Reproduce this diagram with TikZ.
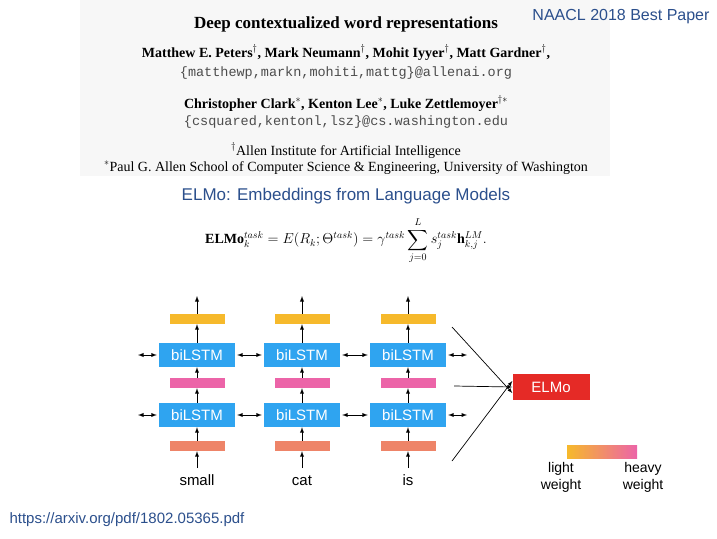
\documentclass[tikz,border=0pt]{standalone}
\usepackage{fontspec}
\usepackage{amsmath}
\setmainfont{Liberation Serif}
\setsansfont{Liberation Sans}
\setmonofont{Liberation Mono}
\definecolor{lstm}{HTML}{2FA4F0}
\definecolor{ora}{HTML}{F6B92B}
\definecolor{pink}{HTML}{EC64A8}
\definecolor{salm}{HTML}{EE8468}
\definecolor{elmo}{HTML}{E52A26}
\definecolor{hblue}{HTML}{2B4F8C}
\begin{document}
\begin{tikzpicture}[x=1pt,y=-1pt,
  lstm/.style={fill=lstm,minimum width=76pt,minimum height=24pt,inner sep=0pt,text=white,font=\sffamily\fontsize{15}{15}\selectfont},
  bar/.style={minimum width=55pt,minimum height=10pt,inner sep=0pt},
  arr/.style={-latex,line width=0.9pt},
  darr/.style={latex-latex,line width=0.9pt},
  word/.style={font=\sffamily\fontsize{15}{15}\selectfont},
  btxt/.style={font=\bfseries\fontsize{14}{14}\selectfont,anchor=base},
  ptxt/.style={font=\fontsize{14}{14}\selectfont,anchor=base},
  mtxt/.style={font=\ttfamily\fontsize{13.5}{14}\selectfont,text=black!70,anchor=base}]
\useasboundingbox (0,0) rectangle (717,538);
\fill[black!3] (80,0) rectangle (610,176);
\node[font=\sffamily\fontsize{16}{16}\selectfont,text=hblue,anchor=base east] (naacl) at (713,20) {NAACL 2018 Best Paper};
\node[font=\bfseries\fontsize{17}{17}\selectfont,anchor=base] (title) at (346,28) {Deep contextualized word representations};
\node[btxt] (a1) at (346,57) {Matthew E. Peters$^\dagger$, Mark Neumann$^\dagger$, Mohit Iyyer$^\dagger$, Matt Gardner$^\dagger$,};
\node[mtxt] (e1) at (346,76) {\{matthewp,markn,mohiti,mattg\}@allenai.org};
\node[btxt] (a2) at (346,108) {Christopher Clark$^*$, Kenton Lee$^*$, Luke Zettlemoyer$^{\dagger*}$};
\node[mtxt] (e2) at (346,125) {\{csquared,kentonl,lsz\}@cs.washington.edu};
\node[ptxt] (f1) at (346,155) {$^\dagger$Allen Institute for Artificial Intelligence};
\node[ptxt] (f2) at (346,171) {$^*$Paul G. Allen School of Computer Science \& Engineering, University of Washington};
\node[font=\sffamily\fontsize{17}{17}\selectfont,text=hblue] (sub) at (346,196) {ELMo: Embeddings from Language Models};
\node[font=\fontsize{14}{14}\selectfont] (eq) at (346,241) {$\displaystyle\mathbf{ELMo}_k^{task}=E(R_k;\Theta^{task})=\gamma^{task}\sum_{j=0}^{L}s_j^{task}\mathbf{h}_{k,j}^{LM}.$};
\foreach \i/\x/\w in {1/197/small,2/302/cat,3/408/is}{
  \node[lstm] (t\i) at (\x,355) {biLSTM};
  \node[lstm] (b\i) at (\x,415) {biLSTM};
  \node[bar,fill=ora] (o\i) at (\x,319) {};
  \node[bar,fill=pink] (p\i) at (\x,383) {};
  \node[bar,fill=salm] (s\i) at (\x,446) {};
  \node[word,anchor=base] (w\i) at (\x,485) {\w};
  \coordinate (top\i) at (\x,296);
  \coordinate (bot\i) at (\x,468);
  \draw[arr] (bot\i) -- (s\i);
  \draw[arr] (s\i) -- (b\i);
  \draw[arr] (b\i) -- (p\i);
  \draw[arr] (p\i) -- (t\i);
  \draw[arr] (t\i) -- (o\i);
  \draw[arr] (o\i) -- (top\i);
}
\coordinate (tL) at (138,355); \coordinate (tR) at (467,355);
\coordinate (bL) at (138,415); \coordinate (bR) at (467,415);
\foreach \r in {t,b}{
  \draw[darr] (\r L) -- ([xshift=-2pt]\r1.west);
  \draw[darr] ([xshift=2pt]\r1.east) -- ([xshift=-2pt]\r2.west);
  \draw[darr] ([xshift=2pt]\r2.east) -- ([xshift=-2pt]\r3.west);
  \draw[darr] ([xshift=2pt]\r3.east) -- (\r R);
}
\node[fill=elmo,minimum width=77pt,minimum height=26pt,inner sep=0pt,text=white,font=\sffamily\fontsize{15}{15}\selectfont] (elmo) at (551,387) {ELMo};
\coordinate (c1) at (452,327);
\coordinate (c2) at (454,386);
\coordinate (c3) at (452,461);
\draw[arr,line width=0.7pt] (c1) -- ([yshift=-6pt]elmo.west);
\draw[arr,line width=0.7pt] (c2) -- (elmo.west);
\draw[arr,line width=0.7pt] (c3) -- ([yshift=6pt]elmo.west);
\shade[left color=ora,right color=pink] (567,445) rectangle (637,458);
\node[word,align=center,font=\sffamily\fontsize{14}{17}\selectfont] (lw) at (561,477) {light\\weight};
\node[word,align=center,font=\sffamily\fontsize{14}{17}\selectfont] (hw) at (643,477) {heavy\\weight};
\node[font=\sffamily\fontsize{15}{15}\selectfont,text=hblue,anchor=base west] (url) at (6,523) {https://arxiv.org/pdf/1802.05365.pdf};
\end{tikzpicture}
\end{document}
